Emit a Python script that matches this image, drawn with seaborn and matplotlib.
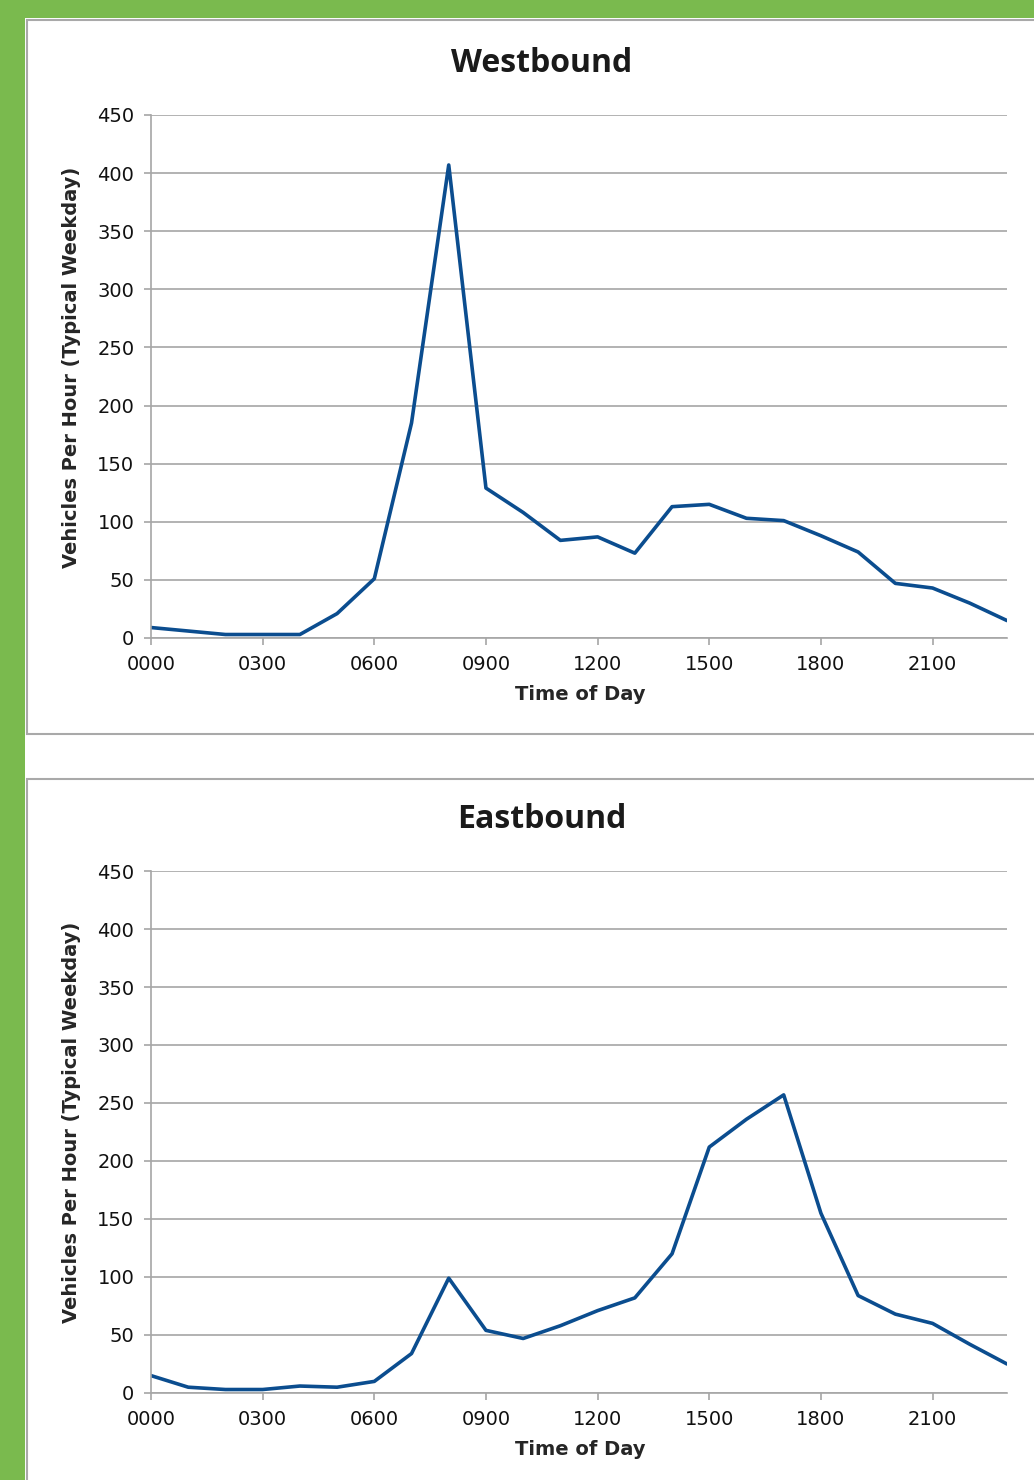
"""
Hourly traffic volume profiles (typical weekday), westbound and eastbound.
"""

import pandas as pd
import matplotlib.pyplot as plt
import seaborn as sns
from matplotlib.patches import Rectangle

# hour of day 0..23
HOURS = list(range(24))

WESTBOUND = [9, 6, 3, 3, 3, 21, 51, 185, 407, 129, 108, 84, 87, 73,
             113, 115, 103, 101, 88, 74, 47, 43, 30, 15]

EASTBOUND = [15, 5, 3, 3, 6, 5, 10, 34, 99, 54, 47, 58, 71, 82,
             120, 212, 236, 257, 155, 84, 68, 60, 42, 25]

X_TICKS = [0, 3, 6, 9, 12, 15, 18, 21]
X_TICK_LABELS = ["0000", "0300", "0600", "0900", "1200", "1500", "1800", "2100"]
Y_TICKS = [0, 50, 100, 150, 200, 250, 300, 350, 400, 450]

PANELS = ["Westbound", "Eastbound"]

GREEN = "#7aba4e"
LINE_BLUE = "#0b4d8f"
GRID_GREY = "#a6a6a6"

W, H = 1034, 1480


def fx(px):
    return px / W


def fy(py):
    return 1 - py / H


def draw_panel(fig, ax, df, title, title_y):
    sns.lineplot(data=df, x="Hour", y="Vehicles", ax=ax, color=LINE_BLUE,
                 linewidth=2.6, legend=False)
    ax.set_xlim(0, 23)
    ax.set_ylim(0, 450)
    ax.set_xticks(X_TICKS)
    ax.set_xticklabels(X_TICK_LABELS)
    ax.set_yticks(Y_TICKS)
    ax.yaxis.grid(True, color=GRID_GREY, linewidth=1.2)
    ax.xaxis.grid(False)
    ax.set_axisbelow(True)
    for side in ["top", "right"]:
        ax.spines[side].set_visible(False)
    for side in ["left", "bottom"]:
        ax.spines[side].set_color(GRID_GREY)
        ax.spines[side].set_linewidth(1.2)
    ax.tick_params(axis="both", which="major", length=5, width=1.2,
                   color=GRID_GREY, labelsize=14, pad=7, labelcolor="#111111")
    ax.tick_params(axis="x", direction="out", bottom=True)
    ax.tick_params(axis="y", direction="out", left=True)

    ax.set_xlabel("Time of Day", fontsize=14, fontweight="bold")
    ax.set_ylabel("Vehicles Per Hour (Typical Weekday)", fontsize=14,
                  fontweight="bold")
    ax.xaxis.set_label_coords(0.501, -0.09)
    ax.yaxis.set_label_coords(-0.082, 0.518)

    fig.text(fx(542), fy(title_y), title, ha="center", va="center",
             fontsize=23, fontweight="bold", family=["Open Sans", "DejaVu Sans"],
             color="#1a1a1a")


def main():
    sns.set_theme(style="white")
    plt.rcParams["font.family"] = ["DejaVu Sans"]

    fig = plt.figure(figsize=(W / 100, H / 100), dpi=100)
    fig.patch.set_facecolor(GREEN)

    # white page area and the two bordered panels (kept behind the axes)
    fig.add_artist(Rectangle((fx(25), 0), 1, fy(18), transform=fig.transFigure,
                             facecolor="white", edgecolor="none", zorder=-3))
    fig.add_artist(Rectangle((fx(27), fy(734)), 1, fy(20) - fy(734),
                             transform=fig.transFigure, facecolor="white",
                             edgecolor="#a9a9a9", linewidth=1.5, zorder=-2))
    fig.add_artist(Rectangle((fx(27), -0.05), 1, fy(779) + 0.05,
                             transform=fig.transFigure, facecolor="white",
                             edgecolor="#a9a9a9", linewidth=1.5, zorder=-2))

    ax_top = fig.add_axes([fx(151), fy(638), fx(1007) - fx(151), fy(115) - fy(638)])
    ax_bot = fig.add_axes([fx(151), fy(1393), fx(1007) - fx(151), fy(871) - fy(1393)])
    for ax in (ax_top, ax_bot):
        ax.set_facecolor("none")
        ax.set_zorder(1)

    west = pd.DataFrame({"Hour": HOURS, "Vehicles": WESTBOUND})
    east = pd.DataFrame({"Hour": HOURS, "Vehicles": EASTBOUND})

    draw_panel(fig, ax_top, west, PANELS[0], 64)
    draw_panel(fig, ax_bot, east, PANELS[1], 820)

    fig.savefig("out.png", dpi=100, facecolor=fig.get_facecolor())


if __name__ == "__main__":
    main()
